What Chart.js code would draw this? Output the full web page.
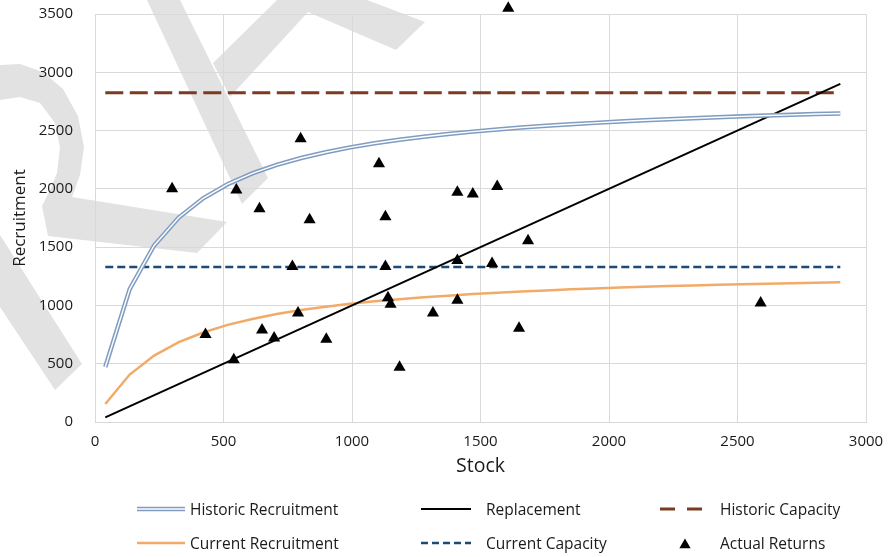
<!DOCTYPE html>
<html>
<head>
<meta charset="utf-8">
<title>Stock - Recruitment</title>
<script src="https://cdn.jsdelivr.net/npm/chart.js@4.4.1/dist/chart.umd.min.js"></script>
<style>
  html, body { margin: 0; padding: 0; background: #fff; }
  #wrap { width: 894px; height: 557px; }
</style>
</head>
<body>
<div id="wrap"><canvas id="srChart" width="894" height="557"></canvas></div>
<script>
// ====== DATA ======
const seriesNames = ['Historic Recruitment', 'Replacement', 'Historic Capacity',
                     'Current Recruitment', 'Current Capacity', 'Actual Returns'];

// stock values used for the two recruitment curves
const stock = [40, 135, 230, 326, 421, 516, 612, 707, 802, 898, 993, 1088, 1184, 1279, 1374,
               1470, 1565, 1660, 1756, 1851, 1946, 2042, 2137, 2232, 2328, 2423, 2518, 2614,
               2709, 2804, 2900];
const historicRecruitment = [472, 1140, 1514, 1754, 1919, 2040, 2133, 2206, 2265, 2314, 2356,
                             2391, 2421, 2447, 2470, 2491, 2509, 2526, 2541, 2554, 2566, 2578,
                             2588, 2597, 2606, 2614, 2622, 2629, 2635, 2642, 2647];
const currentRecruitment = [154, 407, 570, 685, 768, 833, 884, 926, 960, 989, 1014, 1035, 1054,
                            1070, 1084, 1097, 1109, 1119, 1129, 1138, 1146, 1153, 1160, 1166,
                            1171, 1177, 1182, 1187, 1191, 1195, 1199];

// straight lines (start / end stock)
const lineStock = [40, 2900];
const replacement = [40, 2900];
const historicCapacity = [2825, 2825];
const currentCapacity = [1330, 1330];

// observed returns
const returnsStock = [300, 550, 800, 640, 835, 768, 1105, 1130, 1130, 1608, 1410, 1470, 1565,
                      1685, 1410, 1545, 430, 540, 650, 697, 790, 900, 1140, 1150, 1185, 1315,
                      1410, 1650, 2590];
const returnsRecruitment = [2000, 1990, 2430, 1830, 1735, 1335, 2215, 1760, 1335, 3550, 1970,
                            1955, 2020, 1555, 1385, 1360, 750, 535, 790, 720, 935, 710, 1065,
                            1010, 470, 935, 1045, 805, 1020];

const xTickStep = 500;
const yTickStep = 500;

function toPoints(xs, ys) {
    return xs.map((x, i) => ({ x: x, y: ys[i] }));
}

// ====== COLOURS ======
const colHistoric = '#809dc1';
const colCurrent = '#f2aa68';
const colHistCap = '#7b3b22';
const colCurCap = '#1b4a74';
const fontFamily = '"Open Sans", "DejaVu Sans", sans-serif';
const textColor = '#1a1a1a';

// ====== WATERMARK (grey shapes behind the chart) ======
const watermarkPlugin = {
    id: 'watermark',
    beforeDraw(chart) {
        const ctx = chart.ctx;
        const shapes = [
            [[0, 65], [20, 64], [43, 72], [63, 89], [78, 116], [84, 147], [80, 175], [72, 197],
             [227, 222], [197, 253], [48, 236], [42, 206], [50, 190], [57, 173], [60, 147],
             [55, 123], [40, 103], [20, 97], [0, 100]],
            [[0, 235], [82, 364], [55, 390], [0, 307]],
            [[147, 0], [180, 0], [268, 178], [242, 204]],
            [[213, 63], [277, 0], [367, 0], [425, 22], [396, 50], [308, 12], [230, 97]]
        ];
        ctx.save();
        ctx.fillStyle = '#e2e2e2';
        shapes.forEach(poly => {
            ctx.beginPath();
            poly.forEach((p, i) => i ? ctx.lineTo(p[0], p[1]) : ctx.moveTo(p[0], p[1]));
            ctx.closePath();
            ctx.fill();
        });
        ctx.restore();
    }
};

// ====== LEGEND (fixed 3 x 2 grid like the original) ======
const legendPlugin = {
    id: 'gridLegend',
    afterDraw(chart) {
        const ctx = chart.ctx;
        const cols = [{ sx: 137, ex: 185, tx: 190 }, { sx: 421, ex: 471, tx: 486 }, { sx: 660, ex: 702, tx: 720 }];
        const rows = [511, 545];
        const kinds = ['double', 'solid', 'longdash', 'orange', 'shortdash', 'triangle'];

        ctx.save();
        kinds.forEach((kind, i) => {
            const c = cols[i % 3];
            const y = rows[Math.floor(i / 3)];
            const ly = y - 2;
            ctx.beginPath();
            ctx.setLineDash([]);
            if (kind === 'double') {
                ctx.strokeStyle = colHistoric; ctx.lineWidth = 4.5;
                ctx.moveTo(c.sx, ly); ctx.lineTo(c.ex, ly); ctx.stroke();
                ctx.beginPath();
                ctx.strokeStyle = '#fff'; ctx.lineWidth = 1.5;
                ctx.moveTo(c.sx, ly); ctx.lineTo(c.ex, ly); ctx.stroke();
            } else if (kind === 'solid') {
                ctx.strokeStyle = '#000'; ctx.lineWidth = 2;
                ctx.moveTo(c.sx, ly); ctx.lineTo(c.ex, ly); ctx.stroke();
            } else if (kind === 'orange') {
                ctx.strokeStyle = colCurrent; ctx.lineWidth = 2.5;
                ctx.moveTo(c.sx, ly); ctx.lineTo(c.ex, ly); ctx.stroke();
            } else if (kind === 'longdash') {
                ctx.strokeStyle = colHistCap; ctx.lineWidth = 3;
                ctx.setLineDash([15, 12]);
                ctx.moveTo(c.sx, ly); ctx.lineTo(c.ex, ly); ctx.stroke();
            } else if (kind === 'shortdash') {
                ctx.strokeStyle = colCurCap; ctx.lineWidth = 2.5;
                ctx.setLineDash([7, 4]);
                ctx.moveTo(c.sx, ly); ctx.lineTo(c.ex, ly); ctx.stroke();
            } else {
                const r = 6.5, tx = 685, ty = y;
                ctx.fillStyle = '#000';
                ctx.moveTo(tx, ty - r);
                ctx.lineTo(tx + r * 0.866, ty + r / 2);
                ctx.lineTo(tx - r * 0.866, ty + r / 2);
                ctx.closePath();
                ctx.fill();
            }
            ctx.setLineDash([]);
            ctx.fillStyle = textColor;
            ctx.font = '15.5px ' + fontFamily;
            ctx.textBaseline = 'middle';
            ctx.textAlign = 'left';
            ctx.fillText(seriesNames[i], c.tx, y);
        });
        ctx.restore();
    }
};

// ====== CHART ======
const ctx = document.getElementById('srChart').getContext('2d');
const chart = new Chart(ctx, {
    type: 'scatter',
    data: {
        datasets: [{
            label: seriesNames[5],
            data: toPoints(returnsStock, returnsRecruitment),
            pointStyle: 'triangle',
            pointRadius: 7,
            pointHoverRadius: 7,
            backgroundColor: '#000',
            borderColor: '#000',
            borderWidth: 0,
            clip: false,
            order: 0
        }, {
            label: 'core',
            data: toPoints(stock, historicRecruitment),
            showLine: true,
            borderColor: '#fff',
            borderWidth: 1.4,
            pointRadius: 0,
            order: 1
        }, {
            label: seriesNames[0],
            data: toPoints(stock, historicRecruitment),
            showLine: true,
            borderColor: colHistoric,
            borderWidth: 4.5,
            pointRadius: 0,
            order: 2
        }, {
            label: seriesNames[1],
            data: toPoints(lineStock, replacement),
            showLine: true,
            borderColor: '#000',
            borderWidth: 2,
            pointRadius: 0,
            order: 3
        }, {
            label: seriesNames[2],
            data: toPoints(lineStock, historicCapacity),
            showLine: true,
            borderColor: colHistCap,
            borderWidth: 3,
            borderDash: [18, 6.5],
            pointRadius: 0,
            order: 4
        }, {
            label: seriesNames[3],
            data: toPoints(stock, currentRecruitment),
            showLine: true,
            borderColor: colCurrent,
            borderWidth: 2.5,
            pointRadius: 0,
            order: 5
        }, {
            label: seriesNames[4],
            data: toPoints(lineStock, currentCapacity),
            showLine: true,
            borderColor: colCurCap,
            borderWidth: 2.5,
            borderDash: [8, 4],
            pointRadius: 0,
            order: 6
        }]
    },
    options: {
        responsive: false,
        animation: false,
        devicePixelRatio: 1,
        layout: { autoPadding: false, padding: { left: 0, right: 28, top: 14, bottom: 75 } },
        plugins: {
            legend: { display: false },
            tooltip: { enabled: false }
        },
        scales: {
            x: {
                type: 'linear',
                min: 0,
                max: 3000,
                afterFit: s => { s.height = 60; s.paddingLeft = 0; s.paddingRight = 0; },
                ticks: {
                    stepSize: xTickStep,
                    padding: 11,
                    color: textColor,
                    font: { family: fontFamily, size: 15 },
                    callback: v => String(v)
                },
                grid: { color: '#d9d9d9', drawTicks: false },
                border: { color: '#d9d9d9' },
                title: {
                    display: true,
                    text: 'Stock',
                    color: textColor,
                    font: { family: fontFamily, size: 19.5 },
                    padding: { top: 0, bottom: 4 }
                }
            },
            y: {
                min: 0,
                max: 3500,
                afterFit: s => { s.width = 95; s.paddingTop = 0; s.paddingBottom = 0; },
                ticks: {
                    stepSize: yTickStep,
                    padding: 22,
                    color: textColor,
                    font: { family: fontFamily, size: 15 },
                    callback: v => String(v)
                },
                grid: { color: '#d9d9d9', drawTicks: false },
                border: { color: '#d9d9d9' },
                title: {
                    display: true,
                    text: 'Recruitment',
                    color: textColor,
                    font: { family: fontFamily, size: 17 },
                    padding: { top: 10, bottom: 0 }
                }
            }
        }
    },
    plugins: [watermarkPlugin, legendPlugin]
});
</script>
</body>
</html>
